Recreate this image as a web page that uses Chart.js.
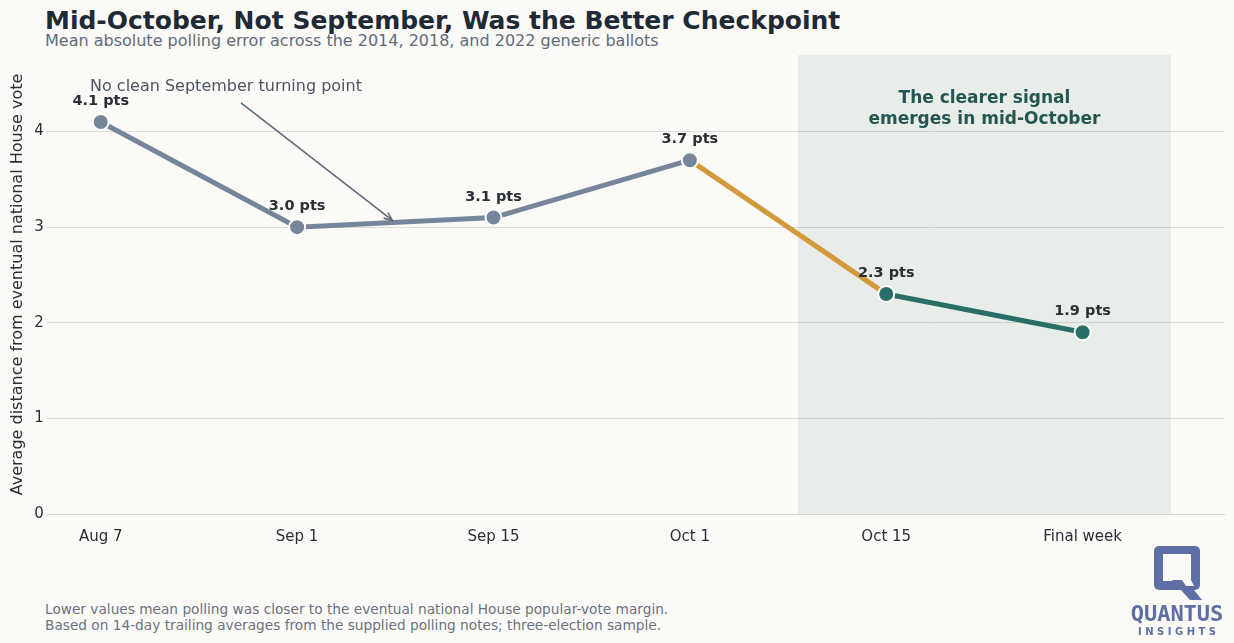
<!DOCTYPE html>
<html><head><meta charset="utf-8">
<script src="https://cdn.jsdelivr.net/npm/chart.js@4"></script>
<style>
html,body{margin:0;padding:0;background:#fbfaf7;width:1234px;height:643px;overflow:hidden;font-family:"DejaVu Sans",sans-serif}
#t{position:absolute;left:45px;top:6px;font-size:25px;font-weight:bold;color:#1f2a36}
#s{position:absolute;left:45px;top:31px;font-size:16px;color:#5f6b78}
#f{position:absolute;left:45px;top:601px;font-size:13.7px;color:#6b7280;line-height:16px}
#wrap{position:absolute;left:4px;top:43px;width:1230px;height:509px}
#logo{position:absolute;left:1120px;top:544px}
</style></head><body>
<div id="t">Mid-October, Not September, Was the Better Checkpoint</div>
<div id="s">Mean absolute polling error across the 2014, 2018, and 2022 generic ballots</div>
<div id="wrap"><canvas id="c"></canvas></div>
<div id="f">Lower values mean polling was closer to the eventual national House popular-vote margin.<br>Based on 14-day trailing averages from the supplied polling notes; three-election sample.</div>
<canvas id="logo" width="114" height="95"></canvas>
<script>
const categories=["Aug 7","Sep 1","Sep 15","Oct 1","Oct 15","Final week"];
const errors=[4.1,3.0,3.1,3.7,2.3,1.9];
const yTicks=[0,1,2,3,4];
const shadeFrom=3.55, shadeTo=5.45;
const GRAY="#75869a", ORANGE="#d39a3c", TEAL="#2a6e69";
const pts=errors.map((v,i)=>({x:i,y:v}));
const plug={id:'extras',
beforeDatasetsDraw(ch){const {ctx,chartArea:a,scales:{x,y}}=ch;ctx.save();ctx.fillStyle="rgba(42,110,105,0.09)";
 const l=x.getPixelForValue(shadeFrom),r=x.getPixelForValue(shadeTo);ctx.fillRect(l,a.top,r-l,a.bottom-a.top);
 ctx.fillStyle="#245752";ctx.font="bold 17px 'DejaVu Sans'";ctx.textAlign="center";
 ctx.fillText("The clearer signal",(l+r)/2,y.getPixelForValue(4.3));ctx.fillText("emerges in mid-October",(l+r)/2,y.getPixelForValue(4.08));ctx.restore();},
afterDatasetsDraw(ch){const {ctx,scales:{x,y}}=ch;ctx.save();ctx.font="bold 14.5px 'DejaVu Sans'";ctx.fillStyle="#2a2f36";ctx.textAlign="center";
 errors.forEach((v,i)=>ctx.fillText(v.toFixed(1)+" pts",x.getPixelForValue(i),y.getPixelForValue(v)-17));
 ctx.font="16px 'DejaVu Sans'";ctx.fillStyle="#4b5563";ctx.textAlign="left";ctx.fillText("No clean September turning point",86,y.getPixelForValue(4.42));
 const x1=237,y1=y.getPixelForValue(4.3),x2=x.getPixelForValue(1.485),y2=y.getPixelForValue(3.07);
 ctx.strokeStyle="#5f6b78";ctx.lineWidth=1.6;ctx.beginPath();ctx.moveTo(x1,y1);ctx.lineTo(x2,y2);ctx.stroke();
 const ang=Math.atan2(y2-y1,x2-x1);ctx.beginPath();ctx.moveTo(x2-9*Math.cos(ang-0.4),y2-9*Math.sin(ang-0.4));ctx.lineTo(x2,y2);ctx.lineTo(x2-9*Math.cos(ang+0.4),y2-9*Math.sin(ang+0.4));ctx.stroke();ctx.restore();}};
new Chart(document.getElementById('c'),{type:'line',
data:{datasets:[{data:pts,borderWidth:5,
 segment:{borderColor:c=>c.p0DataIndex<3?GRAY:(c.p0DataIndex===3?ORANGE:TEAL)},
 pointBackgroundColor:errors.map((v,i)=>i<4?GRAY:TEAL),pointBorderColor:"#fff",pointBorderWidth:2,pointRadius:8,pointHoverRadius:8}]},
options:{responsive:true,maintainAspectRatio:false,animation:false,layout:{padding:{right:10,top:5,left:0}},
 plugins:{legend:{display:false},tooltip:{enabled:false}},
 scales:{x:{type:'linear',min:-0.275,max:5.72,afterBuildTicks:s=>{s.ticks=categories.map((c,i)=>({value:i}))},
   ticks:{callback:v=>categories[v],color:"#2a2f36",font:{size:15,family:"DejaVu Sans"},padding:6},grid:{display:false},border:{color:"#cfcfcf"}},
  y:{min:0,max:4.8,afterBuildTicks:s=>{s.ticks=yTicks.map(v=>({value:v}))},ticks:{color:"#2a2f36",font:{size:15,family:"DejaVu Sans"}},
   grid:{color:"#dcdcd8",tickLength:0},border:{display:false},
   title:{display:true,text:"Average distance from eventual national House vote",color:"#2a2f36",font:{size:16,family:"DejaVu Sans"}}}}},
plugins:[plug]});
const g=document.getElementById('logo').getContext('2d');
g.fillStyle="#5f6fa6";
g.beginPath();g.roundRect(34,2,46,44,5);g.fill();
g.fillStyle="#fbfaf7";g.fillRect(43,10,28,27);
g.fillStyle="#5f6fa6";g.beginPath();g.moveTo(52,36);g.lineTo(66,36);g.lineTo(82,56);g.lineTo(70,56);g.closePath();g.fill();
g.fillStyle="#fbfaf7";g.beginPath();g.moveTo(62,36);g.lineTo(71,36);g.lineTo(74,42);g.lineTo(66,42);g.closePath();g.fill();
g.fillStyle="#5f6fa6";g.font="bold 22px 'DejaVu Sans Mono', monospace";g.textAlign="center";g.fillText("QUANTUS",57,77);
g.font="bold 10px 'DejaVu Sans'";g.fillText("I N S I G H T S",57,91);
</script></body></html>
